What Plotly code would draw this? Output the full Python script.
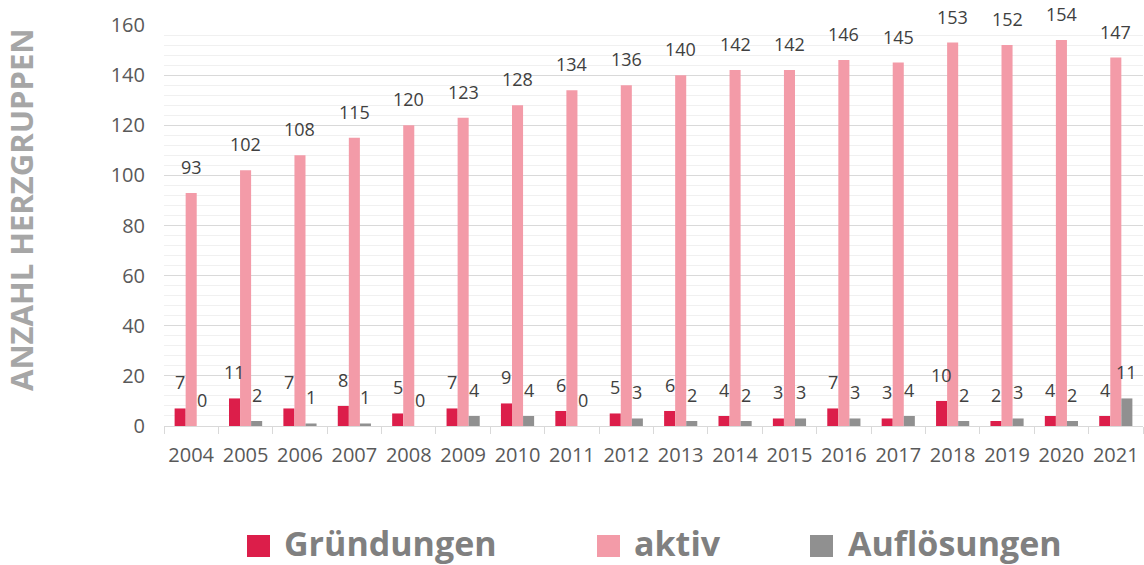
import plotly.graph_objects as go

years = [str(y) for y in range(2004, 2022)]
gruendungen = [7, 11, 7, 8, 5, 7, 9, 6, 5, 6, 4, 3, 7, 3, 10, 2, 4, 4]
aktiv = [93, 102, 108, 115, 120, 123, 128, 134, 136, 140, 142, 142, 146, 145, 153, 152, 154, 147]
aufloesungen = [0, 2, 1, 1, 0, 4, 4, 0, 3, 2, 2, 3, 3, 4, 2, 3, 2, 11]
series_names = ["Gründungen", "aktiv", "Auflösungen"]
series_colors = ["#DC1E4A", "#F39BA8", "#909090"]
series_values = [gruendungen, aktiv, aufloesungen]

FONT = "Open Sans"
W, H = 1144, 565
L, R, T, B = 164, 1, 25, 139
PW, PH = W - L - R, H - T - B
BARGAP = 0.39

def px_x(x):
    return (x - L) / PW

def px_y(y):
    return (H - B - y) / PH

fig = go.Figure()
for name, vals, col in zip(series_names, series_values, series_colors):
    fig.add_trace(go.Bar(x=years, y=vals, name=name, marker_color=col,
                         marker_line_width=0, showlegend=False))

# data labels above each bar
cat_px = PW / len(years)
bar_px = cat_px * (1 - BARGAP) / len(series_names)
annotations = []
for k, vals in enumerate(series_values):
    for i, v in enumerate(vals):
        annotations.append(dict(
            x=i, y=v, xref="x", yref="y", text=str(v), showarrow=False,
            xanchor="center", yanchor="bottom",
            xshift=(k - 1) * bar_px, yshift=12,
            font=dict(family=FONT, size=18, color="#404040")))

# y axis title
annotations.append(dict(
    x=px_x(21), y=px_y(210), xref="paper", yref="paper",
    text="ANZAHL HERZGRUPPEN", textangle=-90, showarrow=False,
    xanchor="center", yanchor="middle",
    font=dict(family=FONT, size=31, color="#A6A6A6", weight="bold")))

# legend (manual)
legend_sq_x = [247, 597, 810]
legend_txt_x = [282, 632, 846]
shapes = []
for name, col, sx, tx in zip(series_names, series_colors, legend_sq_x, legend_txt_x):
    shapes.append(dict(type="rect", xref="paper", yref="paper",
                       x0=px_x(sx), x1=px_x(sx + 23), y0=px_y(557), y1=px_y(535),
                       fillcolor=col, line_width=0))
    annotations.append(dict(
        x=px_x(tx), y=px_y(543), xref="paper", yref="paper", text=name,
        showarrow=False, xanchor="left", yanchor="middle",
        font=dict(family=FONT, size=34, color="#808080", weight="bold")))

fig.update_layout(
    width=W, height=H,
    margin=dict(l=L, r=R, t=T, b=B),
    plot_bgcolor="white", paper_bgcolor="white",
    barmode="group", bargap=BARGAP, bargroupgap=0,
    font=dict(family=FONT, color="#595959"),
    showlegend=False,
    annotations=annotations, shapes=shapes,
)
fig.update_xaxes(
    type="category", range=[-0.5, len(years) - 0.5], automargin=False,
    showline=True, linecolor="#D9D9D9", linewidth=1,
    ticks="outside", tickson="boundaries", ticklen=7, tickcolor="#D9D9D9",
    ticklabelstandoff=11, tickangle=0,
    tickfont=dict(family=FONT, size=20, color="#595959"), showgrid=False,
)
fig.update_yaxes(
    range=[0, 160], dtick=20, automargin=False,
    showgrid=True, gridcolor="#D9D9D9", gridwidth=1,
    minor=dict(dtick=4, showgrid=True, gridcolor="#F0F0F0", gridwidth=1),
    tickfont=dict(family=FONT, size=20, color="#595959"), zeroline=False,
    ticklabelstandoff=18,
)

fig.write_html(
    "out.html",
    config={"displayModeBar": False},
    post_script="document.body.style.margin='0';document.body.style.overflow='hidden';",
)
